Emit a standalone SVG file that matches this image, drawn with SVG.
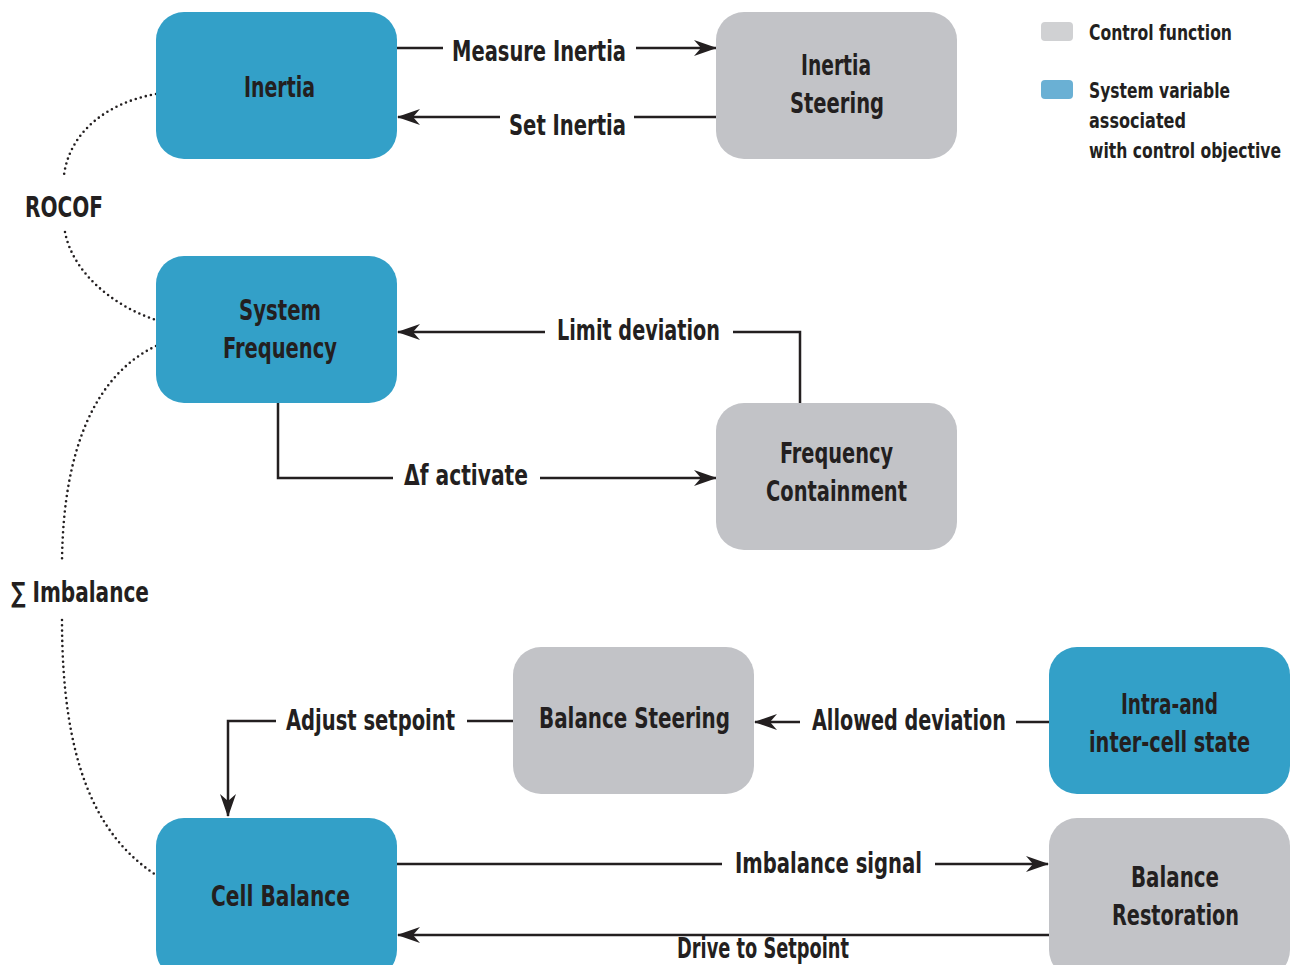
<svg xmlns="http://www.w3.org/2000/svg" width="1298" height="965" viewBox="0 0 1298 965">
  <defs>
    <style>
      .var { fill: #33A0C8; }
      .ctl { fill: #C2C3C7; }
      text { font-family: "Liberation Sans Narrow", "DejaVu Sans Condensed", "Liberation Sans", sans-serif; font-weight: bold; fill: #231F20; }
      .nl { font-size: 29px; }
      .cl { font-size: 28px; }
      .lg { font-size: 21px; }
      .wire { fill: none; stroke: #231F20; stroke-width: 2.5; }
      .arrow { marker-end: url(#head); }
      .dots { fill: none; stroke: #231F20; stroke-width: 2.6; stroke-linecap: round; stroke-dasharray: 0 5.2; }
    </style>
    <marker id="head" viewBox="0 0 23 16" refX="22" refY="8" markerWidth="23" markerHeight="16" markerUnits="userSpaceOnUse" orient="auto">
      <path d="M0,0 L23,8 L0,16 L7,8 z" fill="#231F20"/>
    </marker>
  </defs>

  <rect width="1298" height="965" fill="#FFFFFF"/>

  <!-- Legend -->
  <g id="legend">
    <rect x="1041" y="22" width="32" height="19" rx="4" fill="#D0D1D3"/>
    <text class="lg" x="1089" y="40" textLength="143" lengthAdjust="spacingAndGlyphs">Control function</text>
    <rect x="1041" y="80" width="32" height="19" rx="4" fill="#6AB0D4"/>
    <text class="lg" x="1089" y="98" textLength="141" lengthAdjust="spacingAndGlyphs">System variable</text>
    <text class="lg" x="1089" y="128" textLength="97" lengthAdjust="spacingAndGlyphs">associated</text>
    <text class="lg" x="1089" y="158" textLength="192" lengthAdjust="spacingAndGlyphs">with control objective</text>
  </g>

  <!-- Connectors -->
  <g id="connectors">
    <!-- Measure Inertia -->
    <path class="wire" d="M397,48 H443"/>
    <path class="wire arrow" d="M636,48 H716"/>
    <text class="cl" x="452" y="61" textLength="174" lengthAdjust="spacingAndGlyphs">Measure Inertia</text>
    <!-- Set Inertia -->
    <path class="wire" d="M716,117 H634"/>
    <path class="wire arrow" d="M500,117 H398"/>
    <text class="cl" x="509" y="135" textLength="117" lengthAdjust="spacingAndGlyphs">Set Inertia</text>
    <!-- Limit deviation -->
    <path class="wire" d="M800,403 V332 H733"/>
    <path class="wire arrow" d="M545,332 H398"/>
    <text class="cl" x="557" y="340" textLength="163" lengthAdjust="spacingAndGlyphs">Limit deviation</text>
    <!-- Δf activate -->
    <path class="wire" d="M278,403 V478 H393"/>
    <path class="wire arrow" d="M540,478 H716"/>
    <text class="cl" x="404" y="485" textLength="124" lengthAdjust="spacingAndGlyphs">Δf activate</text>
    <!-- Adjust setpoint -->
    <path class="wire" d="M513,721 H467"/>
    <path class="wire arrow" d="M276,721 H228 V816"/>
    <text class="cl" x="286" y="730" textLength="169" lengthAdjust="spacingAndGlyphs">Adjust setpoint</text>
    <!-- Allowed deviation -->
    <path class="wire" d="M1049,722 H1016"/>
    <path class="wire arrow" d="M800,722 H755"/>
    <text class="cl" x="812" y="730" textLength="194" lengthAdjust="spacingAndGlyphs">Allowed deviation</text>
    <!-- Imbalance signal -->
    <path class="wire" d="M397,864 H722"/>
    <path class="wire arrow" d="M935,864 H1048"/>
    <text class="cl" x="735" y="873" textLength="187" lengthAdjust="spacingAndGlyphs">Imbalance signal</text>
    <!-- Drive to Setpoint -->
    <path class="wire arrow" d="M1049,935 H398"/>
    <text class="cl" x="677" y="958" textLength="172" lengthAdjust="spacingAndGlyphs">Drive to Setpoint</text>

    <!-- ROCOF relation -->
    <path class="dots" d="M156,94 C110,102 70,130 64,175"/>
    <path class="dots" d="M65,232 C72,270 110,305 156,320"/>
    <text class="cl" x="25" y="217" textLength="78" lengthAdjust="spacingAndGlyphs">ROCOF</text>
    <!-- Σ Imbalance relation -->
    <path class="dots" d="M156,346 C95,375 63,450 62,562"/>
    <path class="dots" d="M62,620 C62,760 95,835 156,875"/>
    <text class="cl" x="11" y="602" textLength="138" lengthAdjust="spacingAndGlyphs">∑ Imbalance</text>
  </g>

  <!-- Nodes -->
  <g id="inertia">
    <rect class="var" x="156" y="12" width="241" height="147" rx="28"/>
    <text class="nl" x="244" y="97" textLength="71" lengthAdjust="spacingAndGlyphs">Inertia</text>
  </g>
  <g id="inertia-steering">
    <rect class="ctl" x="716" y="12" width="241" height="147" rx="28"/>
    <text class="nl" x="801" y="75" textLength="70" lengthAdjust="spacingAndGlyphs">Inertia</text>
    <text class="nl" x="790" y="113" textLength="94" lengthAdjust="spacingAndGlyphs">Steering</text>
  </g>
  <g id="system-frequency">
    <rect class="var" x="156" y="256" width="241" height="147" rx="28"/>
    <text class="nl" x="239" y="320" textLength="82" lengthAdjust="spacingAndGlyphs">System</text>
    <text class="nl" x="223" y="358" textLength="114" lengthAdjust="spacingAndGlyphs">Frequency</text>
  </g>
  <g id="frequency-containment">
    <rect class="ctl" x="716" y="403" width="241" height="147" rx="28"/>
    <text class="nl" x="780" y="463" textLength="113" lengthAdjust="spacingAndGlyphs">Frequency</text>
    <text class="nl" x="766" y="501" textLength="141" lengthAdjust="spacingAndGlyphs">Containment</text>
  </g>
  <g id="balance-steering">
    <rect class="ctl" x="513" y="647" width="241" height="147" rx="28"/>
    <text class="nl" x="539" y="728" textLength="191" lengthAdjust="spacingAndGlyphs">Balance Steering</text>
  </g>
  <g id="cell-state">
    <rect class="var" x="1049" y="647" width="241" height="147" rx="28"/>
    <text class="nl" x="1121" y="714" textLength="97" lengthAdjust="spacingAndGlyphs">Intra-and</text>
    <text class="nl" x="1089" y="752" textLength="161" lengthAdjust="spacingAndGlyphs">inter-cell state</text>
  </g>
  <g id="cell-balance">
    <rect class="var" x="156" y="818" width="241" height="160" rx="28"/>
    <text class="nl" x="211" y="906" textLength="139" lengthAdjust="spacingAndGlyphs">Cell Balance</text>
  </g>
  <g id="balance-restoration">
    <rect class="ctl" x="1049" y="818" width="241" height="160" rx="28"/>
    <text class="nl" x="1131" y="887" textLength="88" lengthAdjust="spacingAndGlyphs">Balance</text>
    <text class="nl" x="1112" y="925" textLength="127" lengthAdjust="spacingAndGlyphs">Restoration</text>
  </g>
</svg>
